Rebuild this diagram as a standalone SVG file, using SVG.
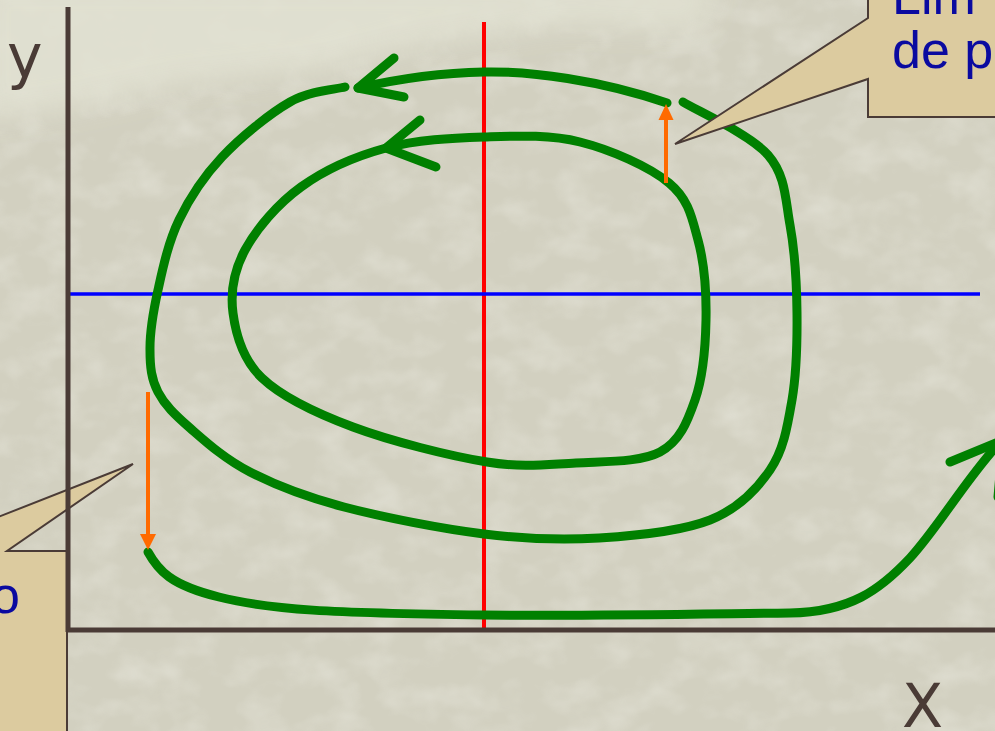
<svg xmlns="http://www.w3.org/2000/svg" width="995" height="731" viewBox="0 0 995 731">
<defs>
<style>
.axis{stroke:#4a3b36;stroke-width:5;fill:none}
.traj{stroke:#008000;stroke-width:9;fill:none;stroke-linecap:round;stroke-linejoin:round}
.jump{stroke:#ff6a00;stroke-width:4;fill:none}
.head{fill:#ff6a00}
.callout{fill:#dccb9f;stroke:#4a3b36;stroke-width:2;stroke-linejoin:miter}
.lbl{font-family:"DejaVu Sans",sans-serif;font-size:60px;fill:#4a3b36}
.note{font-family:"Liberation Sans",sans-serif;font-size:52px;fill:#0a0aa0}
</style>
<filter id="blur" x="-20%" y="-50%" width="140%" height="200%"><feGaussianBlur stdDeviation="14"/></filter>
<filter id="noise" x="0" y="0" width="100%" height="100%">
<feTurbulence type="fractalNoise" baseFrequency="0.025 0.035" numOctaves="3" seed="7"/>
<feColorMatrix type="matrix" values="0 0 0 0 0.9  0 0 0 0 0.9  0 0 0 0 0.84  0 0 0 1.2 -0.5"/>
</filter>
</defs>
<g id="background">
<rect x="0" y="0" width="995" height="731" fill="#d2d0c0"/>
<rect x="0" y="0" width="995" height="731" filter="url(#noise)" opacity="0.55"/>
<path d="M-20,-20 L720,-20 L700,30 L560,25 L420,45 L320,70 L180,85 L60,110 L-20,120 Z" fill="#e2e2d3" filter="url(#blur)" opacity="0.85"/>
</g>
<g id="guides">
<line x1="484" y1="22" x2="484" y2="632" stroke="#ff0000" stroke-width="4"/>
<line x1="68" y1="294" x2="980" y2="294" stroke="#0000ff" stroke-width="3.5"/>
</g>
<g id="connectors">
<path class="traj" d="M484,137 C451.7,138 416.5,139.7 386,148 C355.5,156.3 324.5,170 301,187 C277.5,204 256.3,229 245,250 C233.7,271 230.2,291.7 233,313 C235.8,334.3 242,359 262,378 C282,397 315.5,413 353,427 C390.5,441 449.8,456 487,462 C524.2,468 548,464.2 576,463 C604.8,461.3 640.2,462.5 660,452 C679.8,441.5 687.3,422 695,400 C702.7,378 705.5,346.7 706,320 C706.5,293.3 704.2,262.8 698,240 C691.8,217.2 688.7,199.3 669,183 C649.3,166.7 610.8,149.7 580,142 C549.2,134.3 516.3,136 484,137 Z"/>
<path class="traj" d="M420,120 L386,148 L436,167"/>
<path class="traj" d="M358,88 C380,83 430,73 484,72 C530,71 600,80 667,103"/>
<path class="traj" d="M394,58 L358,88 L404,97"/>
<path class="traj" d="M345,87 C335.8,89.5 310.5,90.3 290,102 C269.5,113.7 240.5,137.3 222,157 C203.5,176.7 189.7,197.8 179,220 C168.3,242.2 162.8,268.3 158,290 C153.2,311.7 149.7,332 150,350 C150,367 151.3,379 158,392 C164.7,405 174.7,414.7 190,428 C205.3,441.3 224.3,458.8 250,472 C275.7,485.2 305,496.7 344,507 C383,517.3 441.5,528.8 484,534 C526.5,539.2 561.3,540.3 599,538 C636.7,535.7 681.5,531.3 710,520 C738.5,508.7 756.3,490 770,470 C783.7,450 787.5,426.2 792,400 C796.5,373.8 797.3,342.2 797,313 C796.7,283.8 794.8,251.3 790,225 C785.2,198.7 785.8,175.5 768,155 C750.2,134.5 697.2,110.8 683,102"/>
<path class="traj" d="M148,552 C158,570 170,585 219,597 C270,610 330,613 484,615 C600,616 700,614 790,613 C850,612 880,590 910,558 C940,525 965,480 1001,441"/>
<path class="traj" d="M950,462 L1003,440 L998,497"/>
<line class="jump" x1="666" y1="183" x2="666" y2="117"/>
<polygon class="head" points="666,104 658.5,120 673.5,120"/>
<line class="jump" x1="148" y1="392" x2="148" y2="537" stroke-width="3.5"/>
<polygon class="head" points="148,550 140,534 156,534"/>
</g>
<g id="callout-left">
<polygon class="callout" points="-40,532 133,464 7,551 67,551 67,740 -40,740"/>
<text class="note" x="-9" y="613">o</text>
</g>
<g id="callout-right">
<polygon class="callout" points="868,-10 868,18 675,144 868,79 868,117 1005,117 1005,-10"/>
<text class="note" x="892" y="14">Lim</text>
<text class="note" x="892" y="68">de p</text>
</g>
<g id="axes">
<line class="axis" x1="68" y1="7" x2="68" y2="632"/>
<line class="axis" x1="66" y1="630" x2="995" y2="630"/>
<text class="lbl" x="7" y="77">y</text>
<text class="lbl" x="902" y="727">X</text>
</g>
</svg>
